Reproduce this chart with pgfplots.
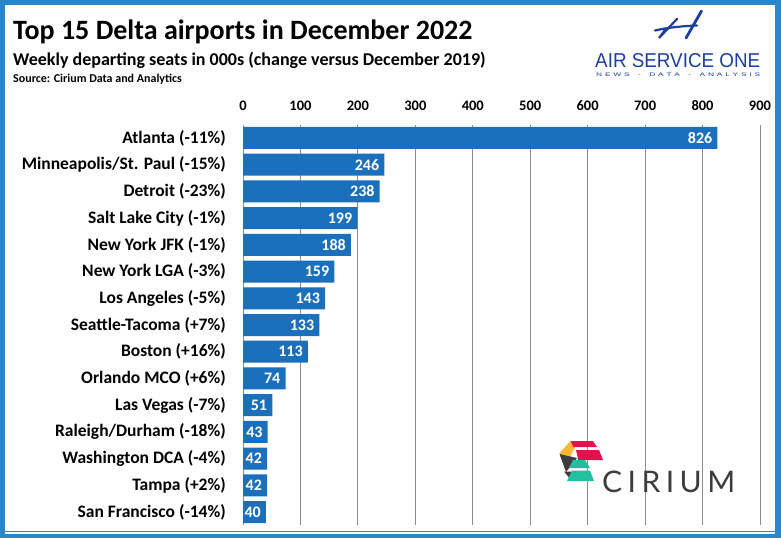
\documentclass[border=0pt]{standalone}
\usepackage{fontspec}
\setmainfont{Carlito}
\newfontfamily\asofont{Liberation Sans}
\newfontfamily\ciriumfont[LetterSpace=18]{Lato}
\usepackage{graphicx}
\usepackage{pgfplots}
\pgfplotsset{compat=1.18}
\definecolor{frameblue}{HTML}{2A86CB}
\definecolor{barblue}{HTML}{1B70BD}
\definecolor{asoblue}{HTML}{1C3F9E}
\definecolor{cred}{HTML}{E0134F}
\definecolor{cyellow}{HTML}{F9B934}
\definecolor{cteal}{HTML}{22BFA0}
\definecolor{cgray}{HTML}{3D3D3D}
\definecolor{gridgray}{HTML}{8C8C8C}
\pgfplotstableread{
x y
826 14
246 13
238 12
199 11
188 10
159 9
143 8
133 7
113 6
74 5
51 4
43 3
42 2
42 1
40 0
}\deltadata
\begin{document}
\begin{tikzpicture}[x=1pt,y=-1pt]
\useasboundingbox (0,0) rectangle (781,538);
\fill[frameblue] (0,0) rectangle (781,538);
\fill[white] (5,5) rectangle (775,533.5);
\draw[frameblue!85!gray, line width=1pt] (5,531.5)--(775,531.5);
% titles
\node[anchor=base west, inner sep=0pt, font=\bfseries\fontsize{28}{28}\selectfont] at (13,39) {Top 15 Delta airports in December 2022};
\node[anchor=base west, inner sep=0pt, font=\bfseries\fontsize{18}{18}\selectfont] at (13,65) {Weekly departing seats in 000s (change versus December 2019)};
\node[anchor=base west, inner sep=0pt, font=\bfseries\fontsize{12}{12}\selectfont] at (13,82) {Source: Cirium Data and Analytics};
% Air Service One logo
\draw[asoblue, line width=2.8pt, line cap=round] (701.5,11) -- (686,38);
\draw[asoblue, line width=2.2pt, line cap=round] (655,30.5) .. controls (670,27) and (685,26) .. (697,25.5);
\draw[asoblue, line width=2.2pt, line cap=round] (677,19) -- (659,38) -- (665,30);
\node[anchor=base west, inner sep=0pt, text=asoblue] at (595,67) {\resizebox{165pt}{14pt}{\asofont AIR SERVICE ONE}};
\node[anchor=base west, inner sep=0pt, text=asoblue] at (596,76) {\resizebox{164pt}{3.6pt}{\asofont N\,\,E\,\,W\,\,S\quad-\quad D\,\,A\,\,T\,\,A\quad-\quad A\,\,N\,\,A\,\,L\,\,Y\,\,S\,\,I\,\,S}};
% axis
\begin{axis}[
  at={(243pt,-124.6pt)}, anchor=north west,
  scale only axis, width=517pt, height=400.8pt,
  xmin=0, xmax=900, ymin=-0.5, ymax=14.5,
  xbar, bar width=22pt,
  axis line style={draw=none},
  major tick length=0pt,
  xtick={0,100,...,900},
  xticklabel pos=upper,
  xmajorgrids, grid style={gridgray, line width=0.8pt},
  ytick={0,...,14},
  yticklabels={San Francisco (-14\%),Tampa (+2\%),Washington DCA (-4\%),Raleigh/Durham (-18\%),Las Vegas (-7\%),Orlando MCO (+6\%),Boston (+16\%),Seattle-Tacoma (+7\%),Los Angeles (-5\%),New York LGA (-3\%),New York JFK (-1\%),Salt Lake City (-1\%),Detroit (-23\%),Minneapolis/St. Paul (-15\%),Atlanta (-11\%)},
  yticklabel style={anchor=east, inner sep=0pt, xshift=-17pt, font=\bfseries\fontsize{17.5}{17.5}\selectfont},
  xticklabel style={anchor=base, inner sep=0pt, yshift=14pt, font=\bfseries\fontsize{14.5}{14.5}\selectfont},
  /pgf/number format/assume math mode=true,
  point meta=x,
  nodes near coords,
  every node near coord/.append style={anchor=east, text=white, inner sep=0pt, xshift=-5pt, font=\bfseries\fontsize{16}{16}\selectfont},
]
\addplot[fill=barblue, draw=none] table[x=x, y=y] {\deltadata};
\end{axis}
% Cirium logo
\fill[cyellow] (559.5,453) -- (570.5,441) -- (575,447) -- (568,461) -- (562,458) -- cycle;
\fill[cred] (570.7,441) -- (593,441) -- (597,447) -- (573.3,447) -- cycle;
\fill[cred] (576,450) -- (599,450) -- (603,460) -- (578.3,460) -- cycle;
\fill[cgray] (559.5,454) -- (577,458) -- (566,472) -- cycle;
\fill[cteal] (573,460) -- (585,460) -- (590,468) -- (569,468) -- cycle;
\fill[cgray] (564,471.5) -- (577,471.5) -- (571,480) -- cycle;
\fill[cteal] (572,470.5) -- (590,470.5) -- (594,481) -- (567,481) -- cycle;
\node[anchor=base west, inner sep=0pt, text=cgray] at (602,492) {\resizebox{133pt}{21.5pt}{\ciriumfont CIRIUM}};
\end{tikzpicture}
\end{document}
